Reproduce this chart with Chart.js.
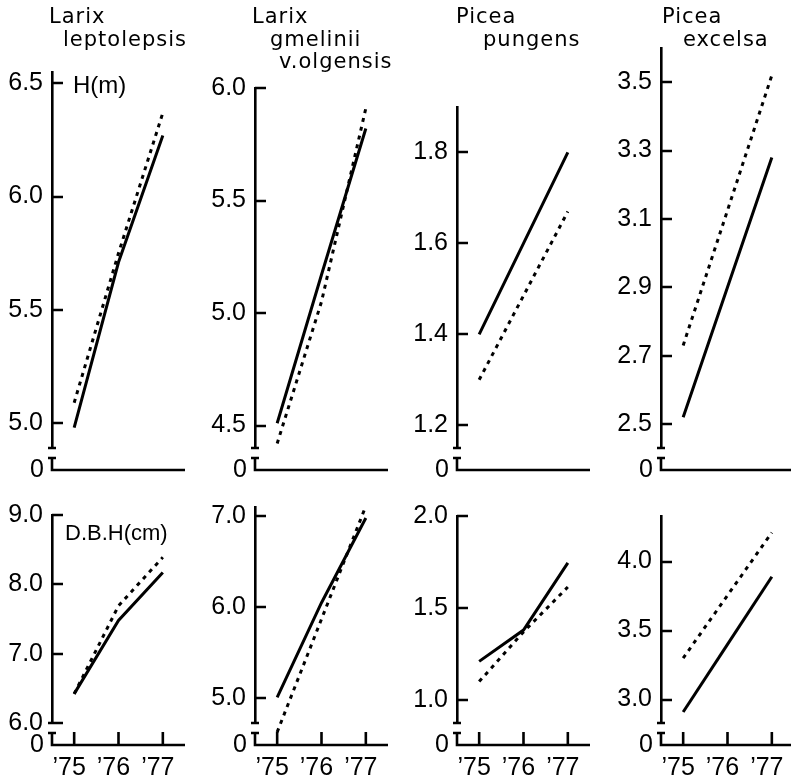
<!DOCTYPE html>
<html>
<head>
<meta charset="utf-8">
<script src="https://cdn.jsdelivr.net/npm/chart.js@4.4.1/dist/chart.umd.min.js"></script>
<style>
    body { margin: 0; background: #fff; width: 791px; height: 782px; overflow: hidden; position: relative; }
    canvas { position: absolute; }
</style>
</head>
<body>
<canvas id="c1"></canvas><canvas id="c2"></canvas><canvas id="c3"></canvas><canvas id="c4"></canvas>
<canvas id="c5"></canvas><canvas id="c6"></canvas><canvas id="c7"></canvas><canvas id="c8"></canvas>
<script>
(() => {
    const years = ['\u201975', '\u201976', '\u201977'];

    const species = [
        ['Larix', 'leptolepsis'],
        ['Larix', 'gmelinii', 'v.olgensis'],
        ['Picea', 'pungens'],
        ['Picea', 'excelsa']
    ];

    // H(m) : solid and dotted line for each species
    const hLeptoSolid = [4.98, 5.71, 6.27];
    const hLeptoDotted = [5.09, 5.75, 6.37];
    const hGmeliniiSolid = [4.51, 5.17, 5.82];
    const hGmeliniiDotted = [4.42, 5.05, 5.91];
    const hPungensSolid = [1.40, 1.60, 1.80];
    const hPungensDotted = [1.30, 1.485, 1.67];
    const hExcelsaSolid = [2.52, 2.90, 3.28];
    const hExcelsaDotted = [2.73, 3.125, 3.52];

    // D.B.H(cm)
    const dLeptoSolid = [6.42, 7.48, 8.17];
    const dLeptoDotted = [6.42, 7.69, 8.39];
    const dGmeliniiSolid = [5.01, 6.05, 6.98];
    const dGmeliniiDotted = [4.63, 5.87, 7.11];
    const dPungensSolid = [1.21, 1.38, 1.745];
    const dPungensDotted = [1.10, 1.37, 1.614];
    const dExcelsaSolid = [2.91, 3.40, 3.89];
    const dExcelsaDotted = [3.30, 3.755, 4.21];

    // tick labels on the y axes
    const hTicksLepto = [5.0, 5.5, 6.0, 6.5];
    const hTicksGmelinii = [4.5, 5.0, 5.5, 6.0];
    const hTicksPungens = [1.2, 1.4, 1.6, 1.8];
    const hTicksExcelsa = [2.5, 2.7, 2.9, 3.1, 3.3, 3.5];
    const dTicksLepto = [6.0, 7.0, 8.0, 9.0];
    const dTicksGmelinii = [5.0, 6.0, 7.0];
    const dTicksPungens = [1.0, 1.5, 2.0];
    const dTicksExcelsa = [3.0, 3.5, 4.0];

    const FONT = '"Liberation Sans", Arial, sans-serif';
    const TITLE_FONT = '"DejaVu Sans", sans-serif';
    const axisX = [52, 255, 457, 661];
    const titleIndent = [[-3, 11], [-3, 15, 24], [-1, 26], [1, 22]];

    const panels = [
        { id: 'c1', col: 0, row: 0, top: 72, min: 4.89, max: 6.55, ticks: hTicksLepto, solid: hLeptoSolid, dotted: hLeptoDotted, unit: 'H(m)' },
        { id: 'c2', col: 1, row: 0, top: 88, min: 4.40, max: 6.0, ticks: hTicksGmelinii, solid: hGmeliniiSolid, dotted: hGmeliniiDotted },
        { id: 'c3', col: 2, row: 0, top: 107, min: 1.15, max: 1.9, ticks: hTicksPungens, solid: hPungensSolid, dotted: hPungensDotted },
        { id: 'c4', col: 3, row: 0, top: 48, min: 2.43, max: 3.6, ticks: hTicksExcelsa, solid: hExcelsaSolid, dotted: hExcelsaDotted },
        { id: 'c5', col: 0, row: 1, top: 25, min: 6.0, max: 9.0, ticks: dTicksLepto, solid: dLeptoSolid, dotted: dLeptoDotted, unit: 'D.B.H(cm)' },
        { id: 'c6', col: 1, row: 1, top: 17, min: 4.73, max: 7.1, ticks: dTicksGmelinii, solid: dGmeliniiSolid, dotted: dGmeliniiDotted },
        { id: 'c7', col: 2, row: 1, top: 26, min: 0.875, max: 2.0, ticks: dTicksPungens, solid: dPungensSolid, dotted: dPungensDotted },
        { id: 'c8', col: 3, row: 1, top: 26, min: 2.83, max: 4.33, ticks: dTicksExcelsa, solid: dExcelsaSolid, dotted: dExcelsaDotted }
    ];

    // broken axis, inward ticks, 0 baseline, titles
    const panelDeco = {
        id: 'panelDeco',
        afterDraw(chart, args, opts) {
            const { ctx, chartArea: a, scales: { x, y } } = chart;
            const base = a.bottom + 22;
            ctx.save();
            ctx.strokeStyle = '#000';
            ctx.fillStyle = '#000';
            ctx.lineWidth = 2.6;
            ctx.beginPath();
            y.ticks.forEach(t => {
                const py = Math.round(y.getPixelForValue(t.value));
                ctx.moveTo(a.left, py);
                ctx.lineTo(a.left + 11, py);
            });
            ctx.moveTo(a.left - 4, a.bottom);
            ctx.lineTo(a.left + 4, a.bottom);
            ctx.moveTo(a.left - 4, a.bottom + 10);
            ctx.lineTo(a.left + 4, a.bottom + 10);
            ctx.moveTo(a.left, a.bottom + 10);
            ctx.lineTo(a.left, base);
            ctx.lineTo(opts.lineEnd || a.right, base);
            if (opts.xTicks) {
                x.ticks.forEach((t, i) => {
                    const px = x.getPixelForTick(i);
                    ctx.moveTo(px, base);
                    ctx.lineTo(px, base - 13);
                });
            }
            ctx.stroke();

            ctx.font = '25px ' + FONT;
            ctx.textAlign = 'right';
            ctx.textBaseline = 'alphabetic';
            ctx.fillText('0', a.left - 8, base + 7);

            ctx.textAlign = 'left';
            if (opts.title) {
                ctx.font = '21px ' + TITLE_FONT;
                ctx.letterSpacing = '1px';
                opts.title.forEach((line, i) => {
                    ctx.fillText(line, a.left + opts.indent[i], 23 + i * 22.5);
                });
                ctx.letterSpacing = '0px';
            }
            if (opts.unit) {
                ctx.font = (opts.unitSize || 24) + 'px ' + FONT;
                ctx.fillText(opts.unit, a.left + opts.unitDx, a.top + opts.unitDy);
            }
            ctx.restore();
        }
    };

    panels.forEach(p => {
        const canvas = document.getElementById(p.id);
        const topRow = p.row === 0;
        const canvasTop = topRow ? 0 : 490;
        const height = topRow ? 490 : 292;
        const left = axisX[p.col] - 52;
        canvas.width = 200;
        canvas.height = height;
        canvas.style.left = left + 'px';
        canvas.style.top = canvasTop + 'px';

        new Chart(canvas.getContext('2d'), {
            type: 'line',
            data: {
                labels: years,
                datasets: [
                    { data: p.solid, borderColor: '#000', borderWidth: 3, pointRadius: 0, tension: 0, clip: false },
                    { data: p.dotted, borderColor: '#000', borderWidth: 3, borderDash: [4, 5], pointRadius: 0, tension: 0, clip: false }
                ]
            },
            options: {
                responsive: false,
                animation: false,
                events: [],
                layout: { padding: { left: 0, right: 200 - 52 - 133, top: p.top, bottom: 0 } },
                plugins: {
                    legend: { display: false },
                    tooltip: { enabled: false },
                    panelDeco: {
                        xTicks: !topRow,
                        lineEnd: p.col === 3 ? 200 : null,
                        title: topRow ? species[p.col] : null,
                        indent: titleIndent[p.col],
                        unit: p.unit,
                        unitSize: topRow ? 24 : 22,
                        unitDx: topRow ? 21 : 13,
                        unitDy: topRow ? 21 : 25
                    }
                },
                scales: {
                    x: {
                        type: 'category',
                        offset: true,
                        grid: { display: false, drawTicks: false },
                        border: { display: false },
                        ticks: {
                            display: !topRow,
                            color: '#000',
                            font: { family: FONT, size: 25 },
                            padding: 30,
                            labelOffset: -5,
                            maxRotation: 0,
                            autoSkip: false
                        },
                        afterFit(scale) {
                            scale.height = topRow ? 42 : 59;
                            scale.paddingLeft = 0;
                            scale.paddingRight = 0;
                        }
                    },
                    y: {
                        type: 'linear',
                        min: p.min,
                        max: p.max,
                        grid: { display: false, drawTicks: false },
                        border: { display: true, color: '#000', width: 2.6 },
                        ticks: {
                            color: '#000',
                            font: { family: FONT, size: 25 },
                            padding: 9,
                            callback: v => Number(v).toFixed(1)
                        },
                        afterBuildTicks(scale) {
                            scale.ticks = p.ticks.map(v => ({ value: v }));
                        },
                        afterFit(scale) {
                            scale.width = 52;
                            scale.paddingTop = 0;
                            scale.paddingBottom = 0;
                        }
                    }
                }
            },
            plugins: [panelDeco]
        });
    });
})();
</script>
</body>
</html>
